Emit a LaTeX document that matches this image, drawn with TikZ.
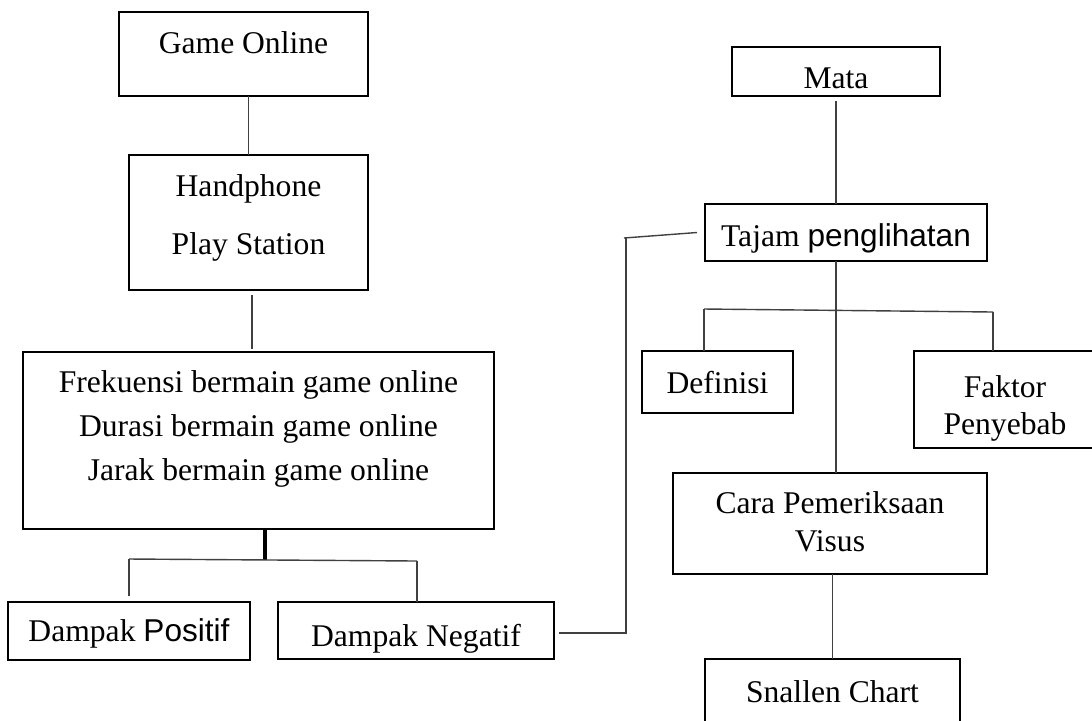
\documentclass[tikz,border=0pt]{standalone}
\usepackage{fontspec}
\setmainfont{Liberation Serif}
\newfontfamily\arial{Liberation Sans}
\usetikzlibrary{calc}
\begin{document}
\begin{tikzpicture}[x=0.5pt,y=-0.5pt]
  \tikzstyle{box}=[draw, line width=1pt, inner sep=0pt, outer sep=0pt, anchor=north west, align=center, font=\fontsize{15.8}{19}\selectfont]
  \tikzstyle{link}=[draw=black!75, line width=0.7pt]
  \useasboundingbox (0,0) rectangle (1092,720);

  \node[box, minimum width=124.5pt, text height=20.5pt, text depth=21.5pt] (game) at (119,12) {Game Online};
  \node[box, minimum width=119.5pt, text height=49.5pt, text depth=18pt] (hp) at (129,155) {Handphone\\[10pt]Play Station};
  \node[box, minimum width=235.5pt, text height=64pt, text depth=24.5pt] (freq) at (23,352) {Frekuensi bermain game online\\[3pt]Durasi bermain game online\\[3pt]Jarak bermain game online};
  \node[box, minimum width=121pt, text height=19.5pt, text depth=9.5pt] (pos) at (8,602) {Dampak {\arial Positif}};
  \node[box, minimum width=138pt, text height=22pt, text depth=6.5pt] (neg) at (278,602) {Dampak Negatif};

  \node[box, minimum width=104pt, text height=20.5pt, text depth=4pt] (mata) at (732,47) {Mata};
  \node[box, minimum width=141pt, text height=21pt, text depth=7.5pt] (tajam) at (705,204) {Tajam {\arial penglihatan}};
  \node[box, minimum width=75.5pt, text height=21pt, text depth=10pt] (def) at (642,351) {Definisi};
  \node[box, minimum width=91pt, text height=41.5pt, text depth=7pt] (fak) at (914,351) {Faktor\\[-0.5pt]Penyebab};
  \node[box, minimum width=157pt, text height=39pt, text depth=11.5pt] (cara) at (673,473) {Cara Pemeriksaan\\Visus};
  \node[box, minimum width=127.5pt, text height=21.5pt, text depth=16pt] (snal) at (705,659) {Snallen Chart};

  \coordinate (jHp) at (252,320);
  \coordinate (jFreq) at (265,560);
  \coordinate (jPos) at (129,559);
  \coordinate (jNeg) at (417,561);
  \coordinate (bendLow) at (626,633);
  \coordinate (bendHigh) at (626,237);
  \coordinate (jMid) at (836,310);
  \coordinate (jDef) at (704,309);
  \coordinate (jFak) at (993,312);

  \draw[link] (game.south -| hp.north) -- (hp.north);
  \draw[link, shorten <=2.5pt, shorten >=1.5pt] (hp.south -| jHp) -- (freq.north -| jHp);
  \draw[link, draw=black, line width=1.6pt] (freq.south -| jFreq) -- (jFreq);
  \draw[link] (jPos) -- (jNeg);
  \draw[link, shorten >=3pt] (jPos) -- (jPos |- pos.north);
  \draw[link] (jNeg) -- (jNeg |- neg.north);
  \draw[link, shorten <=2.5pt] (neg.east |- bendLow) -- (bendLow) -- (bendHigh);
  \draw[link] ($(bendHigh)+(-2,1)$) -- ($(tajam.west)+(-8,0)$);

  \draw[link, shorten <=2.5pt] (mata.south) -- (mata.south |- tajam.north);
  \draw[link] (tajam.south -| jMid) -- (jMid);
  \draw[link] (jDef) -- (jFak);
  \draw[link] (jDef) -- (jDef |- def.north);
  \draw[link] (jFak) -- (jFak |- fak.north);
  \draw[link] (jMid) -- (jMid |- cara.north);
  \draw[link] (cara.south -| snal.north) -- (snal.north);
\end{tikzpicture}
\end{document}
